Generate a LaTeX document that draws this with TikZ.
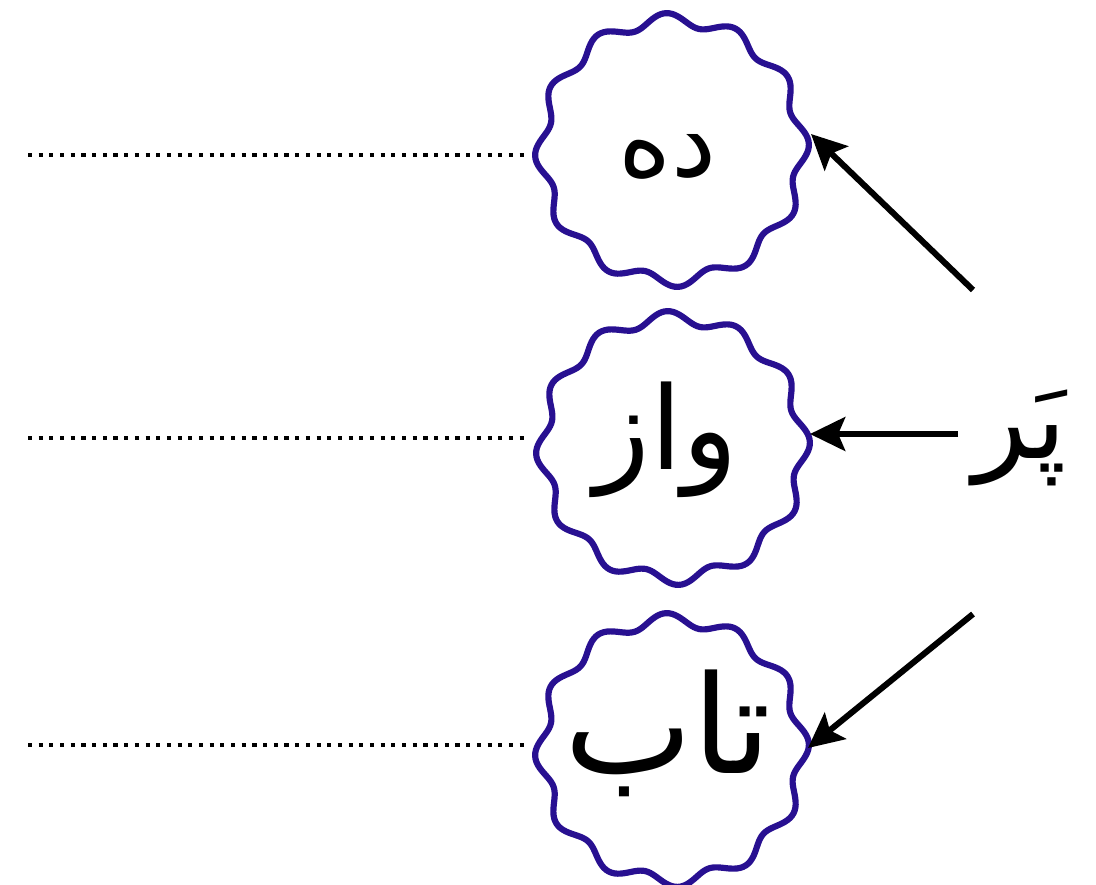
\documentclass[tikz,border=0pt]{standalone}
\usepackage{fontspec}
\usetikzlibrary{arrows.meta}
\newfontfamily\arabicfont[Script=Arabic]{DejaVu Sans}
\TeXXeTstate=1
\definecolor{wavyblue}{RGB}{40,16,145}
\tikzset{
  wavy/.style={draw=wavyblue, line width=4.4pt, fill=white},
  dotline/.style={line width=2.9pt, dash pattern=on 2.9pt off 4.7pt},
  arr/.style={line width=4.3pt, -{Stealth[length=25pt,width=24pt,inset=5pt]}},
  word/.style={font=\arabicfont\fontsize{#1}{#1}\selectfont, inner sep=0pt},
  word/.default=72
}
\begin{document}
\begin{tikzpicture}[x=0.025cm,y=-0.025cm]
\useasboundingbox (0,0) rectangle (1096,884);
\fill[white] (0,0) rectangle (1096,884);
% dotted lines
\coordinate (d1a) at (28,155); \coordinate (d1b) at (524,155);
\coordinate (d2a) at (28,438); \coordinate (d2b) at (524,438);
\coordinate (d3a) at (28,745); \coordinate (d3b) at (524,745);
\draw[dotline] (d1a) -- (d1b);
\draw[dotline] (d2a) -- (d2b);
\draw[dotline] (d3a) -- (d3b);
% wavy circles
\foreach \cx/\cy in {672/150, 673/448, 672/750}{
  \draw[wavy] plot[domain=0:360, samples=289, smooth]
    ({\cx + (130.5 + 6.5*cos(12*(\x+2.5)))*cos(\x)}, {\cy + (130.5 + 6.5*cos(12*(\x+2.5)))*sin(\x)}) -- cycle;
}
\node[word=72] (w1) at (668,157) {\beginR ده\endR};
\node[word=82] (w2) at (666,440) {\beginR واز\endR};
\node[word=97] (w3) at (668,733) {\beginR تاب\endR};
\node[word=80] (par) at (1020,438) {\beginR پَر\endR};
% arrows
\coordinate (s1) at (973,290); \coordinate (e1) at (811,134);
\coordinate (s2) at (958,434); \coordinate (e2) at (810,434);
\coordinate (s3) at (973,614); \coordinate (e3) at (808,748);
\draw[arr] (s1) -- (e1);
\draw[arr] (s2) -- (e2);
\draw[arr] (s3) -- (e3);
\end{tikzpicture}
\end{document}
